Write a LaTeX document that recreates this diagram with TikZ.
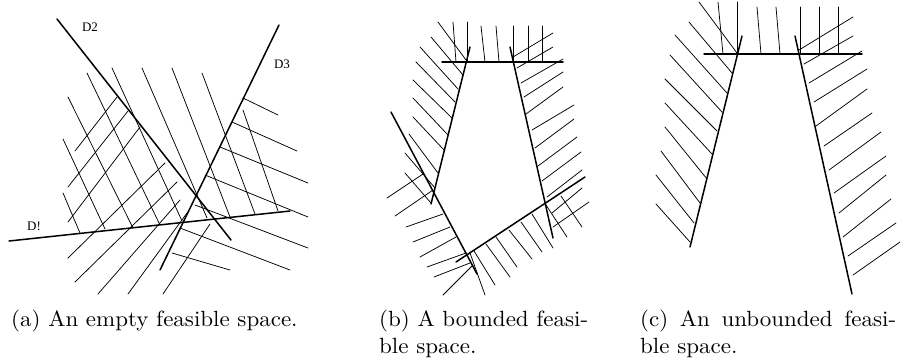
\documentclass[tikz,border=0pt]{standalone}
\usepackage{fontspec}
\newfontfamily\lblfont{Liberation Serif}
\newcommand{\captext}[1]{\scalebox{2.3}[2.2]{\fontsize{10}{12}\selectfont #1}}
\begin{document}
\tikzset{
  boldline/.style={line width=1.5pt},
  hatchline/.style={line width=0.75pt},
  lbltxt/.style={font=\lblfont\fontsize{13}{13}\selectfont, inner sep=0pt},
  captxt/.style={inner sep=0pt, anchor=base west}
}
\begin{tikzpicture}[x=1pt,y=-1pt,line cap=round]
\useasboundingbox (0,0) rectangle (902,360);
% ---------------- panel (a) ----------------
% hatching of D! (above)
\foreach \a/\b/\c/\d in {63/193/80/233, 63/139/105/229, 68/97/133/228, 87/73/159/223,
  112/68/182/221, 142/68/207/218, 172/68/230/217, 202/73/255/214, 243/110/278/211}
  \draw[hatchline] (\a,\b) -- (\c,\d);
% hatching of D2 (lower left)
\foreach \a/\b/\c/\d in {75/151/117/97, 68/187/128/111, 68/222/140/127, 68/258/165/163,
  75/282/177/182, 98/294/180/200, 128/294/187/213, 163/294/210/224}
  \draw[hatchline] (\a,\b) -- (\c,\d);
% hatching of D3 (right)
\foreach \a/\b/\c/\d in {243/98/278/115, 232/122/297/151, 220/147/308/183, 205/175/308/217,
  195/205/308/248, 180/228/290/270, 172/253/230/270}
  \draw[hatchline] (\a,\b) -- (\c,\d);
\draw[boldline] (57,19) -- (231,240);
\draw[boldline] (279,25) -- (160,270);
\draw[boldline] (9,241) -- (290,211);
\node[lbltxt] (d2) at (90,27) {D2};
\node[lbltxt] (d3) at (282,64) {D3};
\node[lbltxt] (d1) at (34,226) {D!};
% ---------------- panel (b) ----------------
\foreach \a/\b/\c/\d in {453/22/456/62, 467/22/467/62, 481/26/485/62, 496/26/499/62,
  513/26/513/62, 528/26/528/62, 542/26/542/62}
  \draw[hatchline] (\a,\b) -- (\c,\d);
\foreach \a/\b/\c/\d in {438/22/466/60, 431/37/463/75, 420/47/458/89, 416/62/455/102,
  413/80/452/118, 413/98/448/135, 413/117/444/150, 409/134/438/173, 405/153/435/188,
  405/173/431/203}
  \draw[hatchline] (\a,\b) -- (\c,\d);
\foreach \a/\b/\c/\d in {387/198/423/174, 395/216/433/190, 406/227/443/214, 413/242/450/227,
  420/257/456/237, 427/267/466/253, 434/277/470/263, 443/295/473/265}
  \draw[hatchline] (\a,\b) -- (\c,\d);
\foreach \a/\b/\c/\d in {470/253/485/295, 474/251/495/285, 486/244/510/277, 496/237/517/267,
  509/230/532/259, 521/222/542/252, 532/214/553/248, 546/205/567/237, 561/196/582/227}
  \draw[hatchline] (\a,\b) -- (\c,\d);
\foreach \a/\b/\c/\d in {513/57/553/33, 517/68/553/47, 521/83/563/59, 524/97/563/72,
  526/114/563/87, 532/130/574/105, 535/148/574/119, 538/166/577/137, 542/181/581/152,
  547/197/582/170, 552/213/582/188, 553/227/589/202}
  \draw[hatchline] (\a,\b) -- (\c,\d);
\draw[boldline] (442,62) -- (563,62);
\draw[boldline] (470,47) -- (431,204);
\draw[boldline] (510,47) -- (553,238);
\draw[boldline] (456,262) -- (585,177);
\draw[boldline] (391,112) -- (477,274);
% ---------------- panel (c) ----------------
\foreach \a/\b/\c/\d in {718/2/723/54, 737/2/737/54, 757/7/761/54, 776/7/780/54,
  800/7/800/54, 819/7/819/54, 838/7/838/54}
  \draw[hatchline] (\a,\b) -- (\c,\d);
\foreach \a/\b/\c/\d in {699/2/737/53, 689/22/732/73, 675/35/727/93, 670/55/722/112,
  665/79/717/131, 665/103/712/154, 665/127/707/179, 661/151/700/203, 656/175/694/223,
  656/204/690/242}
  \draw[hatchline] (\a,\b) -- (\c,\d);
\foreach \a/\b/\c/\d in {799/50/853/17, 804/64/853/36, 809/83/862/51, 814/102/867/69,
  816/126/867/89, 824/146/872/113, 829/170/881/132, 834/193/886/156, 839/213/886/175,
  843/237/891/199, 848/256/896/223, 853/275/900/242}
  \draw[hatchline] (\a,\b) -- (\c,\d);
\draw[boldline] (704,54) -- (862,54);
\draw[boldline] (742,36) -- (690,247);
\draw[boldline] (795,36) -- (852,294);
% ---------------- captions ----------------
\node[captxt] (capa) at (11,326) {\captext{(a) An empty feasible space.}};
\node[captxt] (capb1) at (379,326) {\captext{(b) A bounded feasi-}};
\node[captxt] (capb2) at (379,353) {\captext{ble space.}};
\node[captxt] (capc1) at (640,326) {\captext{\makebox[111.3pt][s]{(c) An unbounded feasi-}}};
\node[captxt] (capc2) at (640,353) {\captext{ble space.}};
\end{tikzpicture}
\end{document}
